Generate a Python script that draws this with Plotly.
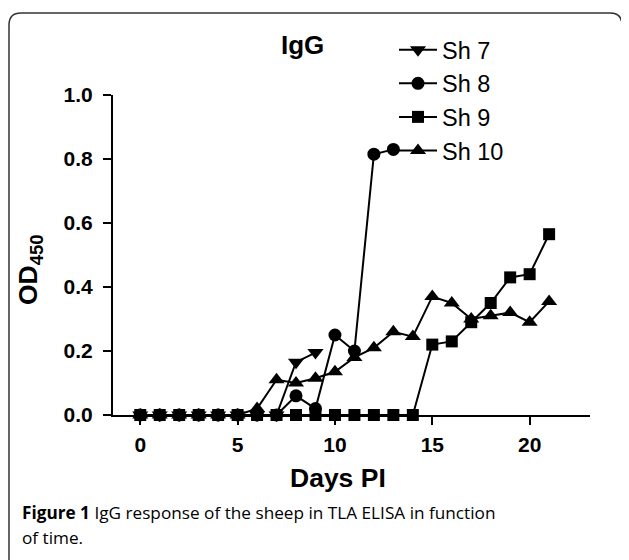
import plotly.graph_objects as go

# ---- data ----
sh7_days = [0, 1, 2, 3, 4, 5, 6, 7, 8, 9]
sh7_od = [0, 0, 0, 0, 0, 0, 0, 0, 0.165, 0.195]

sh8_days = [0, 1, 2, 3, 4, 5, 6, 7, 8, 9, 10, 11, 12, 13]
sh8_od = [0, 0, 0, 0, 0, 0, 0, 0, 0.06, 0.02, 0.25, 0.20, 0.815, 0.83]

sh9_days = list(range(0, 22))
sh9_od = [0, 0, 0, 0, 0, 0, 0, 0, 0, 0, 0, 0, 0, 0, 0,
          0.22, 0.23, 0.29, 0.35, 0.43, 0.44, 0.565]

sh10_days = list(range(0, 22))
sh10_od = [0, 0, 0, 0, 0, 0, 0.02, 0.11, 0.10, 0.115, 0.135, 0.18, 0.21,
           0.26, 0.245, 0.37, 0.35, 0.30, 0.31, 0.32, 0.29, 0.355]

x_ticks = [0, 5, 10, 15, 20]
y_ticks = [0.0, 0.2, 0.4, 0.6, 0.8, 1.0]
y_tick_labels = ["0.0", "0.2", "0.4", "0.6", "0.8", "1.0"]

# ---- figure geometry (page has an 8px body margin) ----
OFF = 8
W, H = 621, 552
L, T = 113 - OFF, 95 - OFF
PR, PB = 590 - OFF, 415 - OFF
R, B = W - PR, H - PB
pw, ph = PR - L, PB - T

def px(xs):  # screen x -> paper
    return (xs - OFF - L) / pw

def py(ys):  # screen y -> paper
    return (PB - (ys - OFF)) / ph

FONT = "Liberation Sans, Arial, sans-serif"
CAP_FONT = "Open Sans, sans-serif"
line = dict(color="black", width=2)

fig = go.Figure()
series = [
    ("Sh 7", sh7_days, sh7_od, "triangle-down", 14, 1),
    ("Sh 8", sh8_days, sh8_od, "circle", 13, 2),
    ("Sh 10", sh10_days, sh10_od, "triangle-up", 14, 4),
    ("Sh 9", sh9_days, sh9_od, "square", 12, 3),
]
for name, xs, ys, sym, sz, rank in series:
    fig.add_trace(go.Scatter(
        x=xs, y=ys, name=name, mode="lines+markers",
        line=line, marker=dict(symbol=sym, size=sz, color="black"),
        cliponaxis=False, legendrank=rank,
    ))

# rounded border (screen coords converted to paper)
x0, x1, y0, y1, r = 9, 622, 13, 590, 12
def P(x, y):
    return f"{px(x):.5f},{py(y):.5f}"
path = (f"M {P(x0, y0 + r)} Q {P(x0, y0)} {P(x0 + r, y0)} L {P(x1 - r, y0)} "
        f"Q {P(x1, y0)} {P(x1, y0 + r)} L {P(x1, y1)} L {P(x0, y1)} Z")

def ann(text, x, y, size, bold=True, xanchor="center", angle=0, family=FONT):
    return dict(text=text, x=px(x), y=py(y), xref="paper", yref="paper",
                xanchor=xanchor, yanchor="middle", showarrow=False,
                textangle=angle,
                font=dict(size=size, family=family,
                          weight="bold" if bold else "normal", color="black"))

fig.update_layout(
    width=W, height=H,
    margin=dict(l=L, r=R, t=T, b=B),
    paper_bgcolor="white", plot_bgcolor="white",
    font=dict(family=FONT, color="black"),
    showlegend=True,
    legend=dict(x=px(394), y=py(28), xanchor="left", yanchor="top",
                font=dict(size=23.5, family=FONT), bgcolor="rgba(0,0,0,0)",
                itemwidth=38),
    xaxis=dict(range=[-1.4, 23.1], tickvals=x_ticks, showgrid=False, zeroline=False,
               showline=True, linecolor="black", linewidth=2,
               ticks="outside", ticklen=8, tickwidth=2, tickcolor="black",
               ticklabelstandoff=2,
               tickfont=dict(size=21, family=FONT, weight="bold")),
    yaxis=dict(range=[0, 1.0], tickvals=y_ticks, ticktext=y_tick_labels,
               showgrid=False, zeroline=False,
               showline=True, linecolor="black", linewidth=2,
               ticks="outside", ticklen=8, tickwidth=2, tickcolor="black",
               ticklabelstandoff=6,
               tickfont=dict(size=21, family=FONT, weight="bold")),
    shapes=[dict(type="path", xref="paper", yref="paper", path=path,
                 line=dict(color="#333333", width=1.5), layer="below")],
    annotations=[
        ann("IgG", 302, 45, 26),
        ann("Days PI", 338, 478, 26.5),
        ann("OD<sub>450</sub>", 30, 270, 26.5, angle=-90),
        ann("<b>Figure 1</b> IgG response of the sheep in TLA ELISA in function",
            20, 512, 17.2, bold=False, xanchor="left", family=CAP_FONT),
        ann("of time.", 20, 537, 17.2, bold=False, xanchor="left", family=CAP_FONT),
    ],
)

fig.write_html("out.html")
